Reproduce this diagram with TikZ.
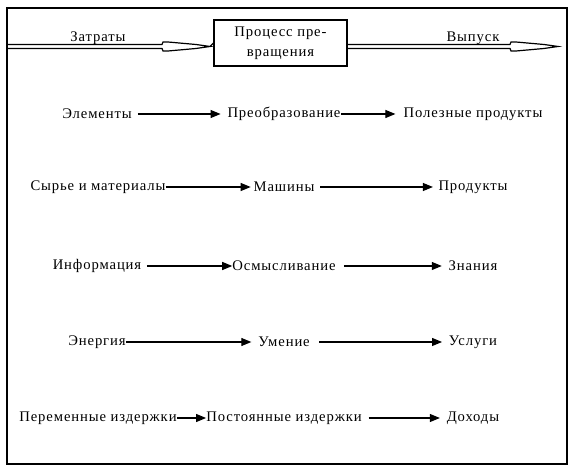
\documentclass[tikz,border=0pt]{standalone}
\usepackage{fontspec}
\setmainfont{Liberation Serif}[LetterSpace=6]
\usetikzlibrary{arrows.meta}
\begin{document}
\begin{tikzpicture}[x=0.75pt,y=-0.75pt,
  lbl/.style={inner sep=0pt,font=\fontsize{11}{13}\selectfont},
  arr/.style={-{Triangle[length=7.5pt,width=6pt]},line width=0.8pt},
  frame/.style={line width=1.1pt},
  dbl/.style={line width=0.9pt,line join=miter}]
\useasboundingbox (0,0) rectangle (575,473);
\draw[frame] (7,8) rectangle (567,464);
% process box
\node[draw,line width=0.8pt,minimum width=133*0.75pt,minimum height=46*0.75pt,inner sep=0pt,align=center,font=\fontsize{11}{15}\selectfont] (proc) at (280.5,43) {Процесс пре-\\вращения};
\coordinate (rout) at (558,46.5);
% left double arrow
\draw[dbl] (7,44.5) -- (162,44.5) -- (163,42) -- (168,42) -- (196,44.5) -- (210,46.5)
  -- (196,48.5) -- (168,51) -- (163,51) -- (162,48.5) -- (7,48.5);
\draw[line width=0.9pt] (210,46.5) -- (proc.west);
% right double arrow
\draw[dbl] (proc.east |- 0,44.5) -- (510,44.5) -- (511,42) -- (516,42) -- (544,44.5) -- (rout)
  -- (544,48.5) -- (516,51) -- (511,51) -- (510,48.5) -- (proc.east |- 0,48.5);
\node[lbl] (zatr) at (98,38) {Затраты};
\node[lbl] (vyp) at (473,38) {Выпуск};
% rows
\node[lbl] (a1) at (97,114) {Элементы};
\node[lbl] (b1) at (284,114) {Преобразование};
\node[lbl] (c1) at (473,114) {Полезные продукты};
\node[lbl] (a2) at (98,187) {Сырье и материалы};
\node[lbl] (b2) at (284,187) {Машины};
\node[lbl] (c2) at (473,187) {Продукты};
\node[lbl] (a3) at (97,266) {Информация};
\node[lbl] (b3) at (284,266) {Осмысливание};
\node[lbl] (c3) at (473,266) {Знания};
\node[lbl] (a4) at (97,342) {Энергия};
\node[lbl] (b4) at (284,342) {Умение};
\node[lbl] (c4) at (473,342) {Услуги};
\node[lbl] (a5) at (98,418) {Переменные издержки};
\node[lbl] (b5) at (284,418) {Постоянные издержки};
\node[lbl] (c5) at (473,418) {Доходы};
\draw[arr] ([xshift=4.5pt]a1.east) -- ([xshift=-5pt]b1.west);
\draw[arr] (b1.east) -- ([xshift=-6pt]c1.west);
\draw[arr] (a2.east) -- ([xshift=-2pt]b2.west);
\draw[arr] ([xshift=4pt]b2.east) -- ([xshift=-4pt]c2.west);
\draw[arr] ([xshift=4pt]a3.east) -- (b3.west);
\draw[arr] ([xshift=6pt]b3.east) -- ([xshift=-5pt]c3.west);
\draw[arr] (a4.east) -- ([xshift=-5pt]b4.west);
\draw[arr] ([xshift=7pt]b4.east) -- ([xshift=-5pt]c4.west);
\draw[arr] (a5.east) -- (b5.west);
\draw[arr] ([xshift=5pt]b5.east) -- ([xshift=-5pt]c5.west);
\end{tikzpicture}
\end{document}
